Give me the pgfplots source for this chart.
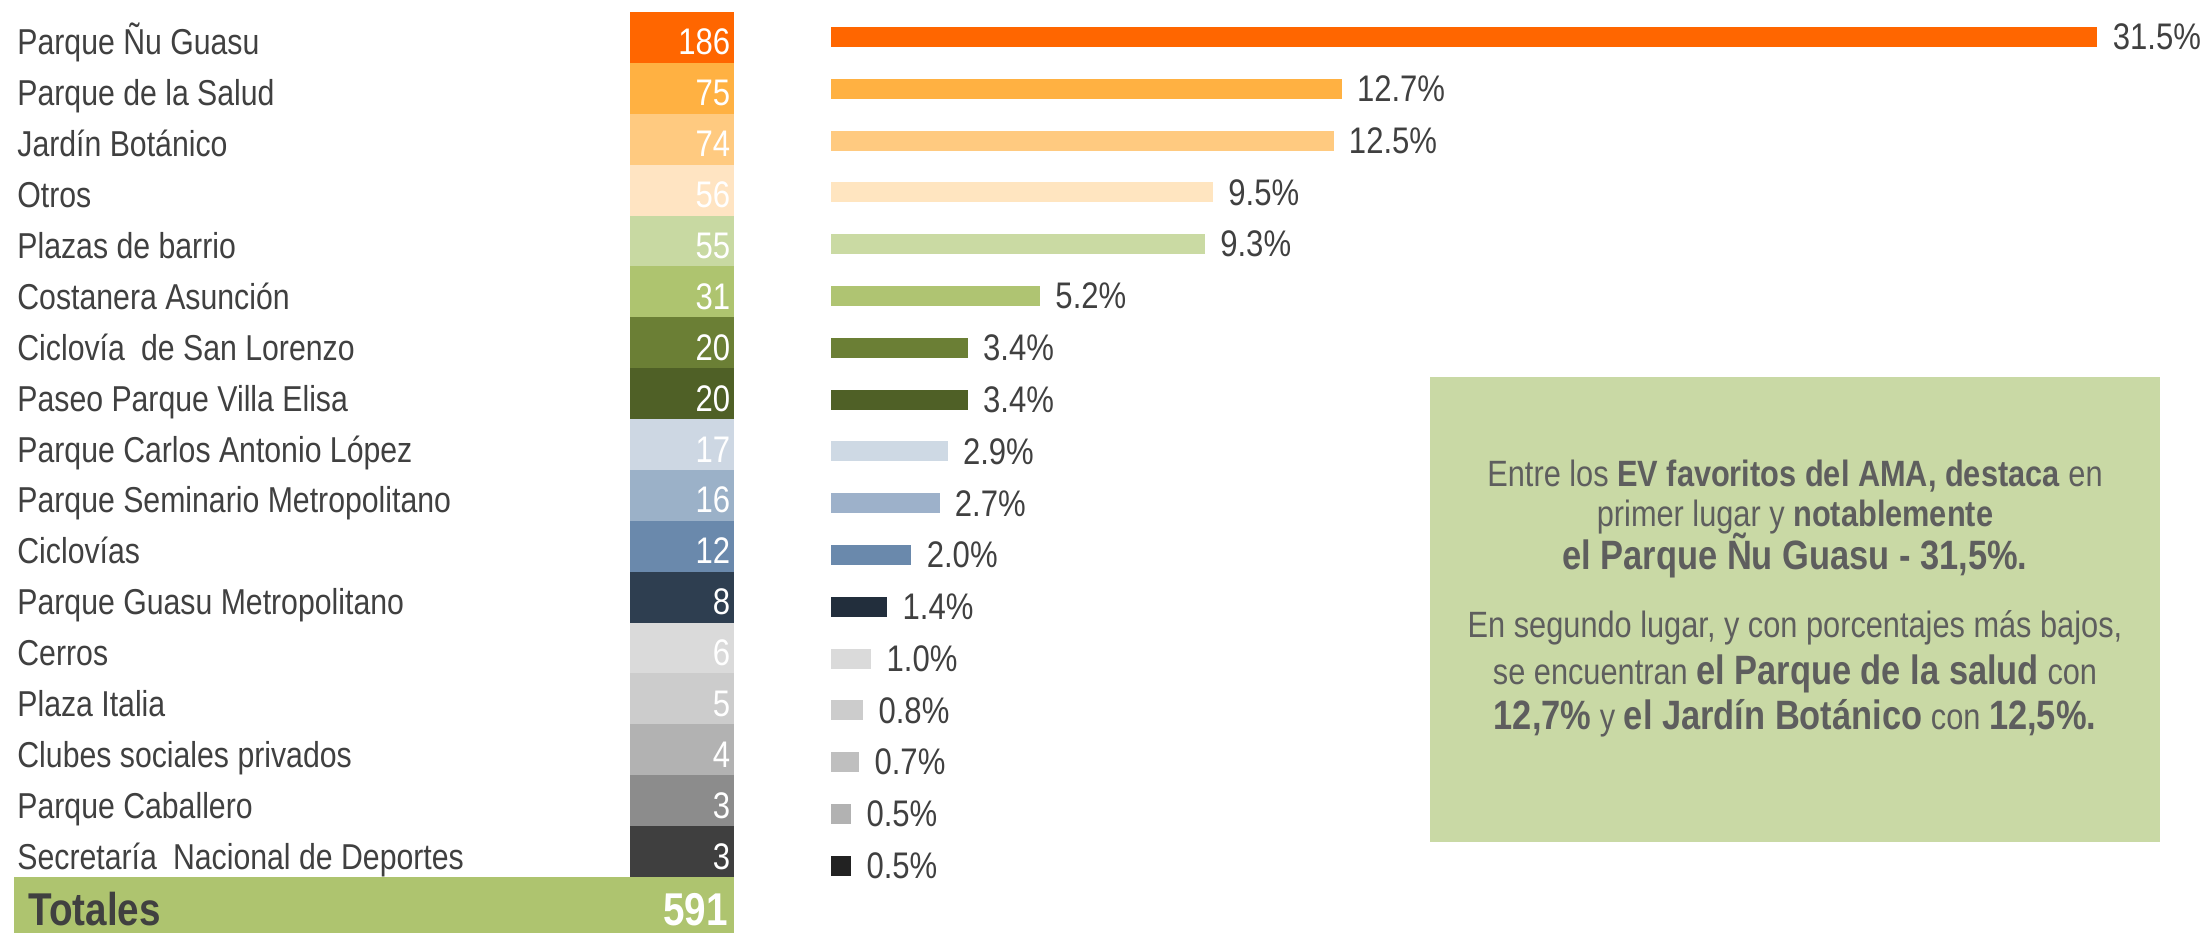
\documentclass[border=0pt]{standalone}
\usepackage{pgfplots}
\pgfplotsset{compat=1.18}
\usepackage{fontspec}
\setmainfont{Liberation Sans}[FakeStretch=0.84]

\definecolor{c0}{HTML}{FF6600}
\definecolor{c1}{HTML}{FFB142}
\definecolor{c2}{HTML}{FFCA80}
\definecolor{c3}{HTML}{FFE4C2}
\definecolor{c4}{HTML}{C8D9A2}
\definecolor{c5}{HTML}{AEC46F}
\definecolor{c6}{HTML}{6B7F35}
\definecolor{c7}{HTML}{4F6026}
\definecolor{c8}{HTML}{CDD7E3}
\definecolor{c9}{HTML}{9BB1C8}
\definecolor{c10}{HTML}{6A89AC}
\definecolor{c11}{HTML}{2E3E50}
\definecolor{c12}{HTML}{DADADA}
\definecolor{c13}{HTML}{CCCCCC}
\definecolor{c14}{HTML}{B2B2B2}
\definecolor{c15}{HTML}{8C8C8C}
\definecolor{c16}{HTML}{3F3F3F}

\definecolor{b0}{HTML}{FF6600}
\definecolor{b1}{HTML}{FFB142}
\definecolor{b2}{HTML}{FFCA80}
\definecolor{b3}{HTML}{FFE5C0}
\definecolor{b4}{HTML}{CADAA3}
\definecolor{b5}{HTML}{AFC472}
\definecolor{b6}{HTML}{6B7F35}
\definecolor{b7}{HTML}{4F6026}
\definecolor{b8}{HTML}{CED9E4}
\definecolor{b9}{HTML}{9DB1CA}
\definecolor{b10}{HTML}{6A89AC}
\definecolor{b11}{HTML}{222E3C}
\definecolor{b12}{HTML}{DADADA}
\definecolor{b13}{HTML}{CCCCCC}
\definecolor{b14}{HTML}{BFBFBF}
\definecolor{b15}{HTML}{B2B2B2}
\definecolor{b16}{HTML}{222222}

\definecolor{tot}{HTML}{AEC46F}
\definecolor{boxc}{HTML}{C9D9A5}
\definecolor{lab}{HTML}{404040}
\definecolor{boxtxt}{HTML}{5E5E5E}

\newcommand\fl{\fontsize{18pt}{20pt}\selectfont}
\newcommand\fn{\fontsize{18.5pt}{20pt}\selectfont}
\newcommand\fb{\fontsize{18.3pt}{20pt}\selectfont}
\newcommand\fbig{\fontsize{20.5pt}{22pt}\selectfont\bfseries}

\pgfplotsset{
  cell/.style={xbar, bar shift=0pt, bar width=25.45pt, draw=none, fill=#1},
  pbar/.style={xbar, bar shift=0pt, bar width=10pt, draw=none, fill=#1},
}

\begin{document}
\begin{tikzpicture}
\path[use as bounding box] (0,0) rectangle (1103pt,466pt);
\fill[white] (0,0) rectangle (1103pt,466pt);

% ---------------- table (labels + counts) ----------------
\begin{axis}[
  at={(0pt,27.5pt)}, anchor=south west,
  scale only axis, width=367pt, height=432.5pt,
  xmin=-734, xmax=0, ymin=-0.5, ymax=16.5, y dir=reverse,
  hide axis, clip=false,
]
\addplot[cell=c0]  coordinates {(-104,0)};
\addplot[cell=c1]  coordinates {(-104,1)};
\addplot[cell=c2]  coordinates {(-104,2)};
\addplot[cell=c3]  coordinates {(-104,3)};
\addplot[cell=c4]  coordinates {(-104,4)};
\addplot[cell=c5]  coordinates {(-104,5)};
\addplot[cell=c6]  coordinates {(-104,6)};
\addplot[cell=c7]  coordinates {(-104,7)};
\addplot[cell=c8]  coordinates {(-104,8)};
\addplot[cell=c9]  coordinates {(-104,9)};
\addplot[cell=c10] coordinates {(-104,10)};
\addplot[cell=c11] coordinates {(-104,11)};
\addplot[cell=c12] coordinates {(-104,12)};
\addplot[cell=c13] coordinates {(-104,13)};
\addplot[cell=c14] coordinates {(-104,14)};
\addplot[cell=c15] coordinates {(-104,15)};
\addplot[cell=c16] coordinates {(-104,16)};
\addplot[xbar, bar shift=0pt, bar width=28pt, draw=none, fill=tot] coordinates {(-720,17.05)};

\foreach \i/\t in {0/Parque Ñu Guasu, 1/Parque de la Salud, 2/Jardín Botánico, 3/Otros, 4/Plazas de barrio, 5/Costanera Asunción, 6/Ciclovía\hspace{0.45em}de San Lorenzo, 7/Paseo Parque Villa Elisa, 8/Parque Carlos Antonio López, 9/Parque Seminario Metropolitano, 10/Ciclovías, 11/Parque Guasu Metropolitano, 12/Cerros, 13/Plaza Italia, 14/Clubes sociales privados, 15/Parque Caballero, 16/Secretaría\hspace{0.45em}Nacional de Deportes}{
  \edef\temp{\noexpand\node[anchor=base west, inner sep=0pt, text=lab, font=\noexpand\fl, yshift=-8.75pt] at (axis cs:-717,\i) {\unexpanded\expandafter{\t}};}
  \temp
}
\foreach \i/\v in {0/186,1/75,2/74,3/56,4/55,5/31,6/20,7/20,8/17,9/16,10/12,11/8,12/6,13/5,14/4,15/3,16/3}{
  \edef\temp{\noexpand\node[anchor=base east, inner sep=0pt, text=white, font=\noexpand\fn, yshift=-8.75pt] at (axis cs:-3.5,\i) {\v};}
  \temp
}
\node[anchor=base west, inner sep=0pt, text=lab, font=\fontsize{23pt}{25pt}\selectfont\bfseries, yshift=-10.25pt] at (axis cs:-706,17.05) {Totales};
\node[anchor=base east, inner sep=0pt, text=white, font=\fontsize{23pt}{25pt}\selectfont\bfseries, yshift=-10.25pt] at (axis cs:-6,17.05) {591};
\end{axis}

% ---------------- percentage bars ----------------
\begin{axis}[
  at={(415.5pt,20.15pt)}, anchor=south west,
  scale only axis, width=687.5pt, height=440.3pt,
  xmin=0, xmax=34.20, ymin=-0.5, ymax=16.5, y dir=reverse,
  hide axis, clip=false,
  point meta=x,
  /pgf/number format/assume math mode=true,
  nodes near coords={\pgfmathprintnumber[fixed,fixed zerofill,precision=1]{\pgfplotspointmeta}\%},
  nodes near coords style={anchor=west, inner sep=0pt, xshift=7.5pt, text=lab, font=\fn},
]
\addplot[pbar=b0]  coordinates {(31.5,0)};
\addplot[pbar=b1]  coordinates {(12.7,1)};
\addplot[pbar=b2]  coordinates {(12.5,2)};
\addplot[pbar=b3]  coordinates {(9.5,3)};
\addplot[pbar=b4]  coordinates {(9.3,4)};
\addplot[pbar=b5]  coordinates {(5.2,5)};
\addplot[pbar=b6]  coordinates {(3.4,6)};
\addplot[pbar=b7]  coordinates {(3.4,7)};
\addplot[pbar=b8]  coordinates {(2.9,8)};
\addplot[pbar=b9]  coordinates {(2.7,9)};
\addplot[pbar=b10] coordinates {(2.0,10)};
\addplot[pbar=b11] coordinates {(1.4,11)};
\addplot[pbar=b12] coordinates {(1.0,12)};
\addplot[pbar=b13] coordinates {(0.8,13)};
\addplot[pbar=b14] coordinates {(0.7,14)};
\addplot[pbar=b15] coordinates {(0.5,15)};
\addplot[pbar=b16] coordinates {(0.5,16)};
\end{axis}

% ---------------- annotation box ----------------
\fill[boxc] (715pt,45pt) rectangle (1080pt,277.5pt);
\begin{scope}[every node/.style={anchor=base, inner sep=0pt, text=boxtxt}]
\node at (897.5pt,222.5pt) {\fb Entre los \textbf{EV favoritos del AMA, destaca} en};
\node at (897.5pt,202.5pt) {\fb primer lugar y \textbf{notablemente}};
\node at (897.5pt,181pt) {\fbig el Parque Ñu Guasu - 31,5\%.};
\node at (897.5pt,147pt) {\fb En segundo lugar, y con porcentajes más bajos,};
\node at (897.5pt,123.5pt) {\fb se encuentran {\fbig el Parque de la salud} con};
\node at (897.5pt,101pt) {\fb {\fbig 12,7\%} y {\fbig el Jardín Botánico} con {\fbig 12,5\%.}};
\end{scope}
\end{tikzpicture}
\end{document}
